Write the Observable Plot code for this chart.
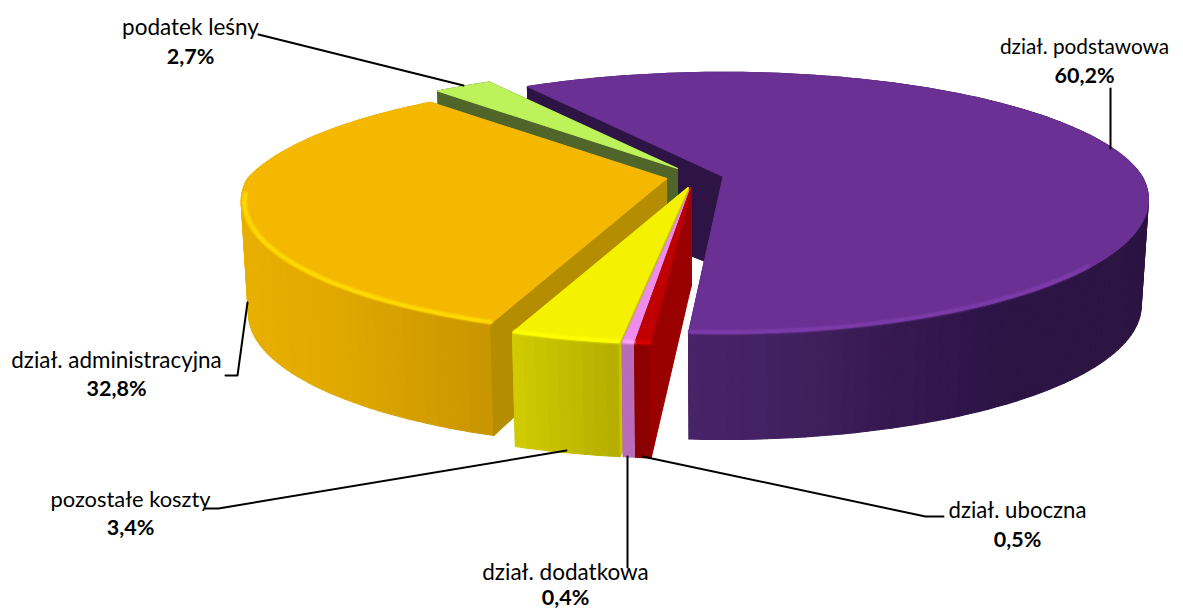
<!DOCTYPE html>
<html><head><meta charset="utf-8">
<script src="https://cdn.jsdelivr.net/npm/d3@7"></script>
<script src="https://cdn.jsdelivr.net/npm/@observablehq/plot@0.6"></script>
<style>html,body{margin:0;padding:0;background:#fff}svg{display:block}</style>
</head><body><div id="chart"></div>
<script>
// values, clockwise from the purple slice
const categories = ["dział. podstawowa","dział. uboczna","dział. dodatkowa","pozostałe koszty","dział. administracyjna","podatek leśny"];
const shares = [60.2,0.5,0.4,3.4,32.8,2.7];
const topColors = ["#6a3093","#c00000","#ee8cee","#f5f200","#f4b800","#bef25a"];
const cutColors = ["#2d1445","#9a0000","#b96cb9","#c8c400","#b58d00","#50652a"];
const wallRamps = [
  [[688,800,900,1000,1147],["#4a2368","#41205f","#35184f","#2c1445","#2c1442"]],
  [[600,700],["#8c0000","#8c0000"]],
  [[600,700],["#b96cb9","#b96cb9"]],
  [[512,618],["#d1cd00","#b5ae00"]],
  [[240,330,490],["#e8b000","#e2aa00","#c99500"]],
  [[400,700],["#50652a","#50652a"]]
];
const rimColors = ["#7d3cab","#dd0000","#f8a8f8","#ffff00","#ffdd00","#bef25a"];
// layout of the exploded 3-D pie
const startAngle = -32.8, rx = 419, ryBack = 124, ryFront = 130, kFront = 0.172, bottomScale = 0.983;
const apexX = [722.6,690.7,690.7,687.7,666,677];
const apexY = [176,187,187,187,178,168];
const kBack = [0.19,0.19,0.19,0.19,0.271,0.245];
const shiftStart = [0,0.7,0.7,0.7,1.2,0];
const shiftEnd = [0,0.7,0.7,1.2,0,0];
const wallDepth = [106,114,114,114,112,112];
const apexDepth = [92,98,98,98,98,98];
const paintOrder = [0,5,4,3,2,1];
const rimRange = [[128,999],[0,999],[0,999],[0,999],[0,264],[0,0]];
// annotation layout
const labelX = [1084,1017,565,130,116,190];
const nameY = [47,510,572,499,360,27];
const valueY = [76,540,598,528,389,57];
const nameSize = [20.8,22.2,22.5,21.9,22.4,22.5];
const leaderX = [[1110,1110],[642,925,943],[627,627],[566,218,205],[247,237,225],[463,258]];
const leaderY = [[148,88],[456,516,516],[456,567],[450,508,508],[302,375,375],[85,34]];

const rad = d => d*Math.PI/180;
let a = startAngle;
const spans = shares.map((s,i) => { const b = [a+shiftStart[i], a+s*3.6+shiftEnd[i]]; a += s*3.6; return b; });
function project(i, t){
  const u = Math.sin(rad(t)), v = Math.cos(rad(t));
  const d = 1 + (v>0 ? kBack[i] : kFront)*v;
  return [apexX[i] + rx*u/d, apexY[i] - (v>0?ryBack:ryFront)*v/d];
}
function lower(i,p){ return [apexX[i]+(p[0]-apexX[i])*bottomScale, p[1]+wallDepth[i]]; }
const polys = [], rims = [];
let id = 0;
function addPoly(pts, fill){ id++; pts.forEach(p => polys.push({x:p[0],y:p[1],z:id,fill})); }
for (const i of paintOrder){
  const [t0,t1] = spans[i];
  const ramp = d3.scaleLinear().domain(wallRamps[i][0]).range(wallRamps[i][1]).clamp(true);
  const A = [apexX[i],apexY[i]], B = [apexX[i],apexY[i]+apexDepth[i]];
  const cut = t => { const p = project(i,t); addPoly([A,p,lower(i,p),B], cutColors[i]); };
  cut(t1);
  const n = Math.max(2, Math.ceil((t1-t0)/1.5));
  const ts = d3.range(n+1).map(k => t0+(t1-t0)*k/n);
  for (let k=n-1;k>=0;k--){
    const p = project(i,ts[k]), q = project(i,ts[k+1]);
    const lp = lower(i,p), lq = lower(i,q);
    addPoly([p,q,lq,lp], d3.color(ramp((lp[0]+lq[0])/2)).formatHex());
  }
  cut(t0);
  addPoly([A,...ts.map(t=>project(i,t))], topColors[i]);
  const lo = Math.max(t0, rimRange[i][0]), hi = Math.min(t1, rimRange[i][1]);
  if (hi > lo){
    const m = Math.ceil((hi-lo)/1.5)+1;
    d3.range(m+1).forEach(k=>{
      const t = lo+(hi-lo)*k/m, p = project(i,t);
      const f = 0.992;
      rims.push({x:apexX[i]+(p[0]-apexX[i])*f, y:apexY[i]+(p[1]-apexY[i])*f, z:i, stroke:rimColors[i]});
    });
  }
}
const leaders = leaderX.flatMap((xs,i)=>xs.map((x,j)=>({x,y:leaderY[i][j],z:i})));
const labels = categories.map((name,i)=>({name,size:nameSize[i],value:shares[i].toFixed(1).replace(".",",")+"%",x:labelX[i],ny:nameY[i],vy:valueY[i]}));
const font = "Lato";
const chart = Plot.plot({
  width:1183,height:610,margin:0,
  x:{domain:[0,1183],range:[0,1183],axis:null},
  y:{domain:[0,610],range:[0,610],axis:null},
  color:{type:"identity"},
  marks:[
    Plot.line(polys,{x:"x",y:"y",z:"z",fill:"fill",stroke:"fill",strokeWidth:1.1,curve:"linear-closed"}),
    Plot.line(rims,{x:"x",y:"y",z:"z",stroke:"stroke",strokeWidth:4,imageFilter:"blur(1px)",strokeLinecap:"butt"}),
    Plot.line(leaders,{x:"x",y:"y",z:"z",stroke:"#000",strokeWidth:2,strokeLinejoin:"miter"}),
    Plot.text(labels,{x:"x",y:"ny",text:"name",fontSize:"size",fontFamily:font,fill:"#000"}),
    Plot.text(labels,{x:"x",y:"vy",text:"value",fontSize:21.5,fontWeight:"bold",fontFamily:font,fill:"#000"})
  ]
});
document.getElementById("chart").append(chart);
</script></body></html>
